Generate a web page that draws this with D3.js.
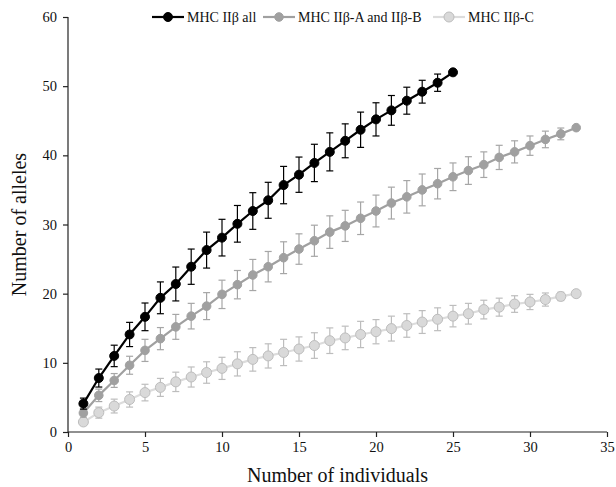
<!DOCTYPE html>
<html lang="en">
<head>
<meta charset="utf-8">
<script src="https://d3js.org/d3.v7.min.js"></script>
<style>
  body { margin: 0; background: #fff; }
  text { font-family: "Liberation Serif", serif; }
</style>
</head>
<body>
<script>
// Data
var seriesNames = ["MHC IIβ all", "MHC IIβ-A and IIβ-B", "MHC IIβ-C"];

var allMean = [4.1, 7.8, 11.0, 14.1, 16.65, 19.4, 21.4, 23.9, 26.3, 28.1, 30.1, 31.95, 33.5, 35.7, 37.2,
               38.9, 40.5, 42.1, 43.7, 45.2, 46.5, 47.9, 49.2, 50.5, 52.0];
var allErr  = [0.8, 1.3, 1.55, 1.75, 2.0, 2.3, 2.45, 2.55, 2.6, 2.65, 2.65, 2.65, 2.6, 2.7, 2.55,
               2.7, 2.75, 2.45, 2.55, 2.4, 2.15, 1.95, 1.65, 1.25, 0];

var abMean = [2.75, 5.3, 7.45, 9.65, 11.8, 13.5, 15.2, 16.75, 18.2, 19.9, 21.3, 22.7, 23.9, 25.2, 26.45,
              27.65, 28.9, 29.8, 30.9, 31.95, 33.1, 34.0, 35.0, 35.9, 36.9, 37.8, 38.65, 39.7, 40.5,
              41.4, 42.3, 43.1, 44.0];
var abErr  = [0.6, 0.9, 1.0, 1.3, 1.6, 1.6, 1.8, 1.85, 1.95, 2.05, 2.05, 2.25, 2.2, 2.3, 2.2,
              2.25, 2.35, 2.25, 2.35, 2.3, 2.3, 2.35, 2.3, 2.2, 2.0, 2.0, 1.85, 1.75, 1.6,
              1.4, 1.2, 0.85, 0];

var cMean = [1.45, 2.8, 3.75, 4.7, 5.7, 6.45, 7.25, 7.95, 8.6, 9.2, 9.85, 10.5, 11.0, 11.5, 12.0,
             12.5, 13.2, 13.6, 14.1, 14.5, 14.95, 15.4, 15.9, 16.3, 16.75, 17.1, 17.7, 18.05, 18.5,
             18.8, 19.15, 19.6, 20.0];
var cErr  = [0.5, 0.8, 1.0, 1.1, 1.2, 1.3, 1.4, 1.45, 1.55, 1.6, 1.75, 1.7, 1.75, 1.9, 1.75,
             1.85, 1.85, 1.7, 1.9, 1.75, 1.8, 1.7, 1.65, 1.65, 1.55, 1.5, 1.35, 1.3, 1.2,
             1.1, 0.95, 0.6, 0];

var xTicks = [0, 5, 10, 15, 20, 25, 30, 35];
var yTicks = [0, 10, 20, 30, 40, 50, 60];

// Layout
var w = 616, h = 487;
var margin = {top: 17, right: 9, bottom: 55, left: 68};

var svg = d3.select("body").append("svg")
    .attr("width", w)
    .attr("height", h);

var x = d3.scaleLinear().domain([0, 35]).range([margin.left, w - margin.right]);
var y = d3.scaleLinear().domain([0, 60]).range([h - margin.bottom, margin.top]);

// Axes
var xAxis = svg.append("g")
    .attr("transform", "translate(0," + y(0) + ")")
    .call(d3.axisBottom(x).tickValues(xTicks).tickSize(5).tickPadding(5));
var yAxis = svg.append("g")
    .attr("transform", "translate(" + x(0) + ",0)")
    .call(d3.axisLeft(y).tickValues(yTicks).tickSize(5).tickPadding(6));

[xAxis, yAxis].forEach(function(a) {
  a.selectAll("path, line").attr("stroke", "#222").attr("stroke-width", 1.2);
  a.selectAll("text").attr("fill", "#111").style("font-size", "14.5px");
});
xAxis.select(".domain").attr("d", "M" + x(0) + ",0H" + x(35));
yAxis.select(".domain").attr("d", "M0," + y(0) + "V" + y(60));

// Axis titles
svg.append("text")
    .attr("x", (x(0) + x(35)) / 2)
    .attr("y", 482)
    .attr("text-anchor", "middle")
    .style("font-size", "20px")
    .attr("fill", "#111")
    .text("Number of individuals");

svg.append("text")
    .attr("transform", "translate(26," + ((y(0) + y(60)) / 2) + ") rotate(-90)")
    .attr("text-anchor", "middle")
    .style("font-size", "20px")
    .attr("fill", "#111")
    .text("Number of alleles");

// Series definitions (draw lightest first)
var series = [
  {name: seriesNames[2], mean: cMean, err: cErr, line: "#dcdcdc", fill: "#d9d9d9", stroke: "#bdbdbd", bar: "#bdbdbd", r: 5},
  {name: seriesNames[1], mean: abMean, err: abErr, line: "#a0a0a0", fill: "#a0a0a0", stroke: "#a0a0a0", bar: "#a6a6a6", r: 4.3},
  {name: seriesNames[0], mean: allMean, err: allErr, line: "#000", fill: "#000", stroke: "#000", bar: "#000", r: 4.5}
];

var line = d3.line()
    .x(function(d, i) { return x(i + 1); })
    .y(function(d) { return y(d); });

series.forEach(function(s) {
  var g = svg.append("g");
  g.append("path")
    .datum(s.mean)
    .attr("d", line)
    .attr("fill", "none")
    .attr("stroke", s.line)
    .attr("stroke-width", 2.2);

  var pts = s.mean.map(function(m, i) { return {n: i + 1, m: m, e: s.err[i]}; })
    .filter(function(d) { return d.e > 0; });

  var eb = g.selectAll(".eb").data(pts).enter().append("g")
    .attr("stroke", s.bar)
    .attr("stroke-width", 1.2);
  eb.append("line")
    .attr("x1", function(d) { return x(d.n); })
    .attr("x2", function(d) { return x(d.n); })
    .attr("y1", function(d) { return y(d.m - d.e); })
    .attr("y2", function(d) { return y(d.m + d.e); });
  eb.append("line")
    .attr("x1", function(d) { return x(d.n) - 3.5; })
    .attr("x2", function(d) { return x(d.n) + 3.5; })
    .attr("y1", function(d) { return y(d.m + d.e); })
    .attr("y2", function(d) { return y(d.m + d.e); });
  eb.append("line")
    .attr("x1", function(d) { return x(d.n) - 3.5; })
    .attr("x2", function(d) { return x(d.n) + 3.5; })
    .attr("y1", function(d) { return y(d.m - d.e); })
    .attr("y2", function(d) { return y(d.m - d.e); });

  g.selectAll("circle").data(s.mean).enter().append("circle")
    .attr("cx", function(d, i) { return x(i + 1); })
    .attr("cy", function(d) { return y(d); })
    .attr("r", s.r)
    .attr("fill", s.fill)
    .attr("stroke", s.stroke)
    .attr("stroke-width", 1);
});

// Legend, in the order all / A and B / C
var legendX = [152, 263, 433];
[series[2], series[1], series[0]].forEach(function(s, i) {
  var lg = svg.append("g").attr("transform", "translate(" + legendX[i] + ",17)");
  lg.append("line")
    .attr("x1", 0).attr("x2", 32)
    .attr("stroke", s.line).attr("stroke-width", 2.2);
  lg.append("circle")
    .attr("cx", 16).attr("r", s.r)
    .attr("fill", s.fill).attr("stroke", s.stroke);
  lg.append("text")
    .attr("x", 35)
    .attr("dy", "0.35em")
    .style("font-size", "14px")
    .attr("fill", "#111")
    .text(s.name);
});
</script>
</body>
</html>
